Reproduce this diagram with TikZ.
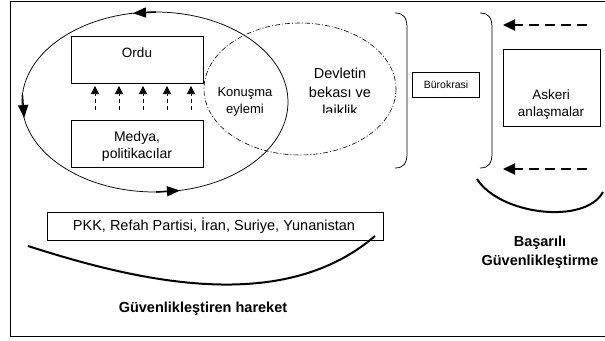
\documentclass[tikz,border=0pt]{standalone}
\usepackage{fontspec}
\setmainfont{Liberation Sans}
\usetikzlibrary{arrows.meta}
\begin{document}
\begin{tikzpicture}[x=1pt,y=-1pt]
\tikzset{
 box/.style={draw, line width=0.75pt, inner sep=0pt},
 txt/.style={inner sep=0pt, align=center, font=\fontsize{14}{17}\selectfont},
 ring/.style={line width=0.75pt},
 ringtip/.style={line width=1.5pt, -{Triangle[length=13pt,width=10pt]}},
 updash/.style={line width=0.75pt, dash pattern=on 4pt off 3pt, -{Triangle[length=8pt,width=8pt]}},
 bigdash/.style={line width=2pt, dash pattern=on 10pt off 6pt, -{Triangle[length=12pt,width=11pt]}},
 dashdot/.style={line width=0.6pt, dash pattern=on 5pt off 2pt on 1pt off 2pt},
 bracket/.style={line width=0.75pt},
 swoosh/.style={line width=2pt},
}
\useasboundingbox (0,0) rectangle (605,340);
% frame
\draw[line width=1pt] (605,1) -- (10,1) -- (10,336) -- (605,336);

% big cycle ellipse
\draw[ring] (155,102) ellipse [x radius=133, y radius=90];
\draw[ringtip] (156,12.0) -- (133,13.2);
\draw[ringtip] (22.4,95) -- (24.1,118);
\draw[ringtip] (156,192) -- (180,190.5);

% dash-dot ellipse
\draw[dashdot] (300,89) ellipse [x radius=96, y radius=66];

% boxes
\node[box, minimum width=132pt, minimum height=47pt] (ordu) at (137,60.3) {};
\node[txt, font=\fontsize{13.5}{16}\selectfont] (ordut) at (137,53) {Ordu};
\node[box, minimum width=132pt, minimum height=47pt] (medya) at (137,144.3) {};
\node[txt] (medyat) at (137,146.5) {Medya,\\politikacılar};

\foreach \x in {95,119,143,167,191}
  \draw[updash] (\x,110) -- (\x,86);

\node[txt, font=\fontsize{13}{17}\selectfont] (konusma) at (245,102) {Konuşma\\eylemi};

\begin{scope}
\clip (280,40) rectangle (400,112.5);
\node[txt, font=\fontsize{14.5}{18.5}\selectfont] (devlet) at (340,92) {Devletin\\bekası ve\\laiklik};
\end{scope}

% brackets
\coordinate (b1t) at (395,13);
\coordinate (b1b) at (395,168);
\draw[bracket] (b1t) .. controls (404,13) and (407,18) .. (407,28) -- (407,153) .. controls (407,163) and (404,168) .. (b1b);
\coordinate (b2t) at (480,13);
\coordinate (b2b) at (480,168);
\draw[bracket] (b2t) .. controls (489,13) and (492,18) .. (492,28) -- (492,153) .. controls (492,163) and (489,168) .. (b2b);

\node[box, minimum width=67pt, minimum height=25pt] (buro) at (446,85) {};
\node[txt, font=\fontsize{10.5}{12}\selectfont] (burot) at (446,84.5) {Bürokrasi};

\node[box, minimum width=97pt, minimum height=77pt] (askeri) at (551.5,88) {};
\node[txt, font=\fontsize{13.5}{17}\selectfont] (askerit) at (551,105) {Askeri\\anlaşmalar};

% dashed arrows right
\coordinate (d1s) at (587,25);
\coordinate (d1e) at (503,25);
\draw[bigdash] (d1s) -- (d1e);
\coordinate (d2s) at (587,169);
\coordinate (d2e) at (503,169);
\draw[bigdash] (d2s) -- (d2e);

% right swoosh
\coordinate (r1) at (477,179);
\coordinate (r2) at (603,192);
\draw[swoosh] (r1) .. controls (500,215) and (585,225) .. (r2);

\node[txt, font=\bfseries\fontsize{14.5}{19.5}\selectfont] (basarili) at (540,252) {Başarılı\\Güvenlikleştirme};

% PKK box
\node[box, minimum width=336pt, minimum height=28pt] (pkk) at (215,226.3) {};
\node[txt, font=\fontsize{14.5}{17}\selectfont] (pkkt) at (214,226) {PKK, Refah Partisi, İran, Suriye, Yunanistan};

% left swoosh
\coordinate (l1) at (28,246);
\coordinate (l2) at (375,236);
\draw[swoosh] (l1) .. controls (140,282) and (283,315) .. (l2);

\node[txt, font=\bfseries\fontsize{14.5}{17}\selectfont] (hareket) at (203,309) {Güvenlikleştiren hareket};
\end{tikzpicture}
\end{document}
